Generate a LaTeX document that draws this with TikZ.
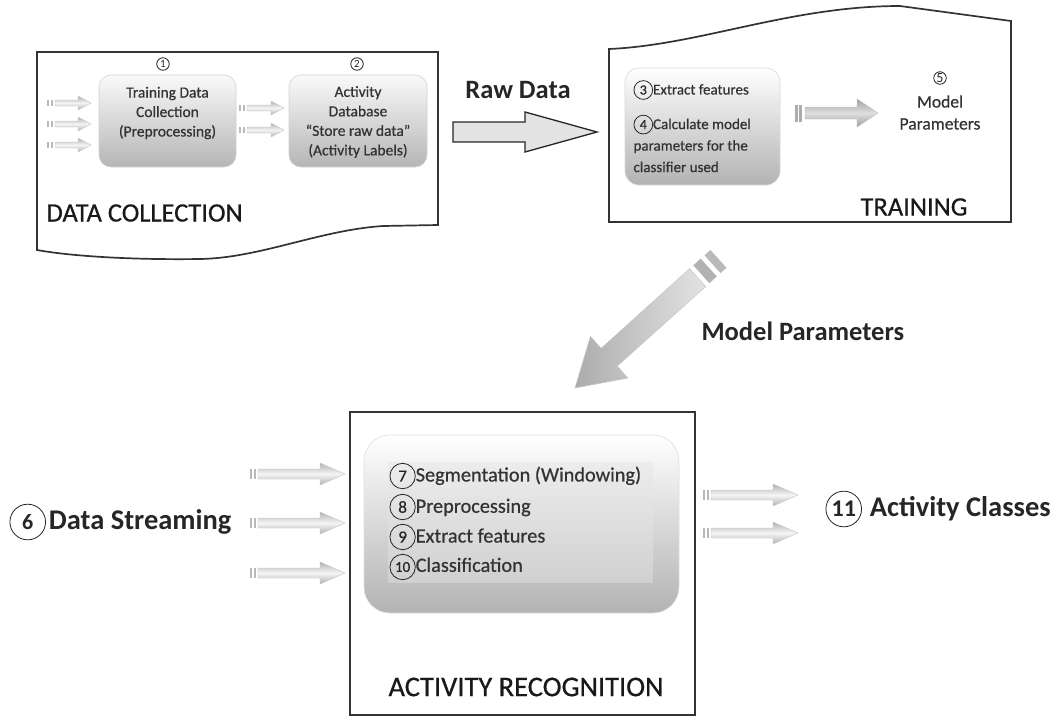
\documentclass[tikz,border=0pt]{standalone}
\usepackage{fontspec}
\setmainfont{Carlito}
\newfontfamily\medf{Carlito}[FakeBold=0.6]
\usetikzlibrary{calc}
\newcommand\cn[2][11]{\tikz[baseline=(cnx.base)]\node[draw=black!85,circle,inner sep=0.2pt,minimum size=1.25em,line width=0.8pt,font=\fontsize{#1}{#1}\selectfont,text=black!85](cnx){#2};}
\newcommand\garrow[7][gray!60]{%
  \fill[gray!55] (#2,{#4-#5}) rectangle ({#2+2},{#4+#5});
  \fill[gray!55] ({#2+4},{#4-#5}) rectangle ({#2+6},{#4+#5});
  \path[draw=gray!45, line width=0.4pt, top color=#1, bottom color=#1, middle color=gray!8]
   ({#2+8},{#4-#5}) -- ({#3-#7},{#4-#5}) -- ({#3-#7},{#4-#6}) -- (#3,#4) -- ({#3-#7},{#4+#6}) -- ({#3-#7},{#4+#5}) -- ({#2+8},{#4+#5}) -- cycle;}
\tikzset{
  frame/.style={draw=black!80, line width=1.7pt},
  gbox/.style={draw=gray!35, line width=0.6pt, rounded corners=12pt, top color=gray!4, bottom color=gray!58},
  boxtxt/.style={font=\medf\fontsize{15.5}{19.5}\selectfont, text=black!80, align=center},
  trtxt/.style={font=\medf\fontsize{15}{21.5}\selectfont, text=black!80, align=left},
  artxt/.style={font=\medf\fontsize{20.3}{30}\selectfont, text=black!80},
  bigtxt/.style={font=\fontsize{26.5}{28}\selectfont\bfseries, text=black!85},
  captxt/.style={font=\medf\fontsize{26.5}{28}\selectfont, text=black!90},
}
\begin{document}
\begin{tikzpicture}[x=1pt,y=-1pt]
\useasboundingbox (0,0) rectangle (1062,718);
\fill[white] (0,0) rectangle (1062,718);

% ---------- DATA COLLECTION ----------
\draw[frame] (37,250) -- (37,52) -- (438,52) -- (438,225) -- (383,226)
  .. controls (320,230) and (260,258) .. (200,259)
  .. controls (130,260) and (70,256) .. (37,250) -- cycle;
\node[gbox, minimum width=137, minimum height=92] (b1) at (167.5,121) {};
\node[gbox, minimum width=138, minimum height=92] (b2) at (358,121) {};
\node (n1) at (163,64) {\cn[11]{1}};
\node (n2) at (357,64) {\cn[11]{2}};
\node[boxtxt] (t1) at (167.5,113) {Training Data\\Collection\\(Preprocessing)};
\node[boxtxt] (t2) at (358,122) {Activity\\Database\\“Store raw data”\\(Activity Labels)};
\garrow{47}{91}{103}{3}{7}{13}
\garrow{47}{91}{124}{3}{7}{13}
\garrow{47}{91}{145}{3}{7}{13}
\garrow{239}{284}{108}{3}{7}{13}
\garrow{239}{284}{130}{3}{7}{13}
\node[captxt, anchor=west] (dclab) at (43,213) {DATA COLLECTION};

% ---------- RAW DATA ARROW ----------
\coordinate (rdtail) at (453,132);
\coordinate (rdtip) at (597,132);
\draw[black!85, fill=gray!22, line width=1.3pt, line join=miter]
  ($(rdtail)+(0,-10)$) -- (525,122) -- (525,112) -- (rdtip) -- (525,152) -- (525,142) -- ($(rdtail)+(0,10)$) -- cycle;
\node[bigtxt] (rawlab) at (518,90) {Raw Data};

% ---------- TRAINING ----------
\draw[frame] (609,222) -- (609,49) .. controls (700,45) and (790,6) .. (900,6)
  -- (1011,21) -- (1011,222) -- cycle;
\node[gbox, draw=gray!30, top color=white, bottom color=gray!60, rounded corners=14pt,
      minimum width=155, minimum height=117] (b3) at (702.5,126.5) {};
\node[trtxt, anchor=west] (t3) at (630,90) {\cn[14]{3}Extract features};
\node[trtxt, anchor=west] (t4) at (630,143.5) {\cn[14]{4}Calculate model\\parameters for the\\classifier used};
\foreach \xx in {795,799}
  \fill[gray!65] (\xx,105) rectangle ({\xx+2.5},122);
\path[draw=gray!50, line width=0.4pt, top color=gray!75, bottom color=gray!75, middle color=gray!25]
  (805,107) -- (857,107) -- (857,99) -- (878,113) -- (857,127) -- (857,119) -- (805,119) -- cycle;
\node (n5) at (940,78) {\cn[14]{5}};
\node[boxtxt, font=\medf\fontsize{17.5}{22}\selectfont] (t5) at (940,112.5) {Model\\Parameters};
\node[captxt, anchor=east] (trlab) at (971,207) {TRAINING};

% ---------- MODEL PARAMETERS ARROW ----------
\begin{scope}[shift={(575,388)}, rotate=42]
  \path[draw=gray!45, line width=0.5pt, left color=gray!65, right color=gray!22]
   (0,0) -- (46,-28) -- (46,-12) -- (165,-12) -- (165,12) -- (46,12) -- (46,28) -- cycle;
  \fill[gray!60] (170,-12) rectangle (180,12);
  \fill[gray!55] (185,-12) rectangle (193,12);
\end{scope}
\node[bigtxt, anchor=west] (mplab) at (698,331) {Model Parameters};

% ---------- ACTIVITY RECOGNITION ----------
\draw[frame] (350,412) rectangle (695,715);
\node[gbox, draw=gray!25, top color=white, bottom color=gray!60, rounded corners=26pt,
      minimum width=315, minimum height=178] (b4) at (521.5,524) {};
\fill[gray!20, opacity=0.45] (388,462) rectangle (653,583);
\node[artxt, anchor=west] (s7) at (386,476) {\cn[17]{7}Segmentation (Windowing)};
\node[artxt, anchor=west] (s8) at (386,507) {\cn[17]{8}Preprocessing};
\node[artxt, anchor=west] (s9) at (386,537) {\cn[17]{9}Extract features};
\node[artxt, anchor=west] (s10) at (386,567) {\cn[15]{10}Classification};
\node[captxt, font=\medf\fontsize{28.5}{30}\selectfont] (arlab) at (526,687) {ACTIVITY RECOGNITION};

\garrow{250}{345}{474}{5}{11}{25}
\garrow{250}{345}{523}{5}{11}{25}
\garrow{250}{345}{573}{5}{11}{25}
\garrow{703}{798}{495}{5}{11}{25}
\garrow{703}{798}{533}{5}{11}{25}

\node[bigtxt, font=\fontsize{28.5}{30}\selectfont\bfseries, anchor=west] (dslab) at (6,522) {\cn[22]{6}\hspace{3pt}Data Streaming};
\node[bigtxt, font=\fontsize{28.5}{30}\selectfont\bfseries, anchor=west] (aclab) at (822,509) {\cn[24]{11}\hspace{8pt}Activity Classes};
\end{tikzpicture}
\end{document}
